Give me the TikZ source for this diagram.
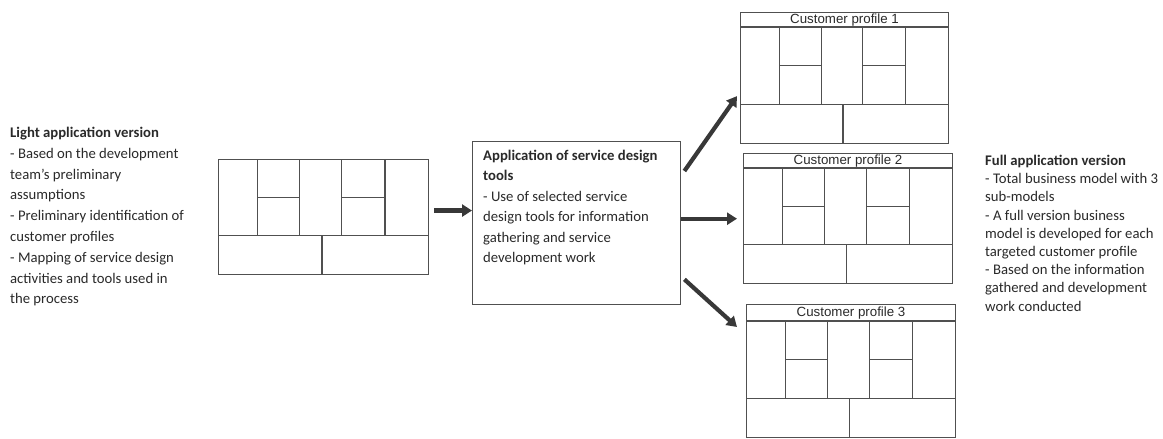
\documentclass[tikz,border=0pt]{standalone}
\usepackage{fontspec}
\setmainfont{Carlito}
\newfontfamily\titlefont{Liberation Sans}
\usetikzlibrary{arrows.meta,calc}
\definecolor{inkline}{HTML}{505050}
\definecolor{inktext}{HTML}{2A2A2A}
\definecolor{arrowgray}{HTML}{383838}

\tikzset{
  gridline/.style={draw=inkline, line width=1.1pt},
  frame/.style={draw=inkline, line width=1.1pt, rectangle, inner sep=0pt, anchor=north west},
  bodytext/.style={text=inktext, inner sep=0pt, anchor=north west, align=left},
  bigarrow/.style={draw=arrowgray, line width=4.2pt, -{Triangle[length=10pt,width=12pt]}},
  cptitle/.style={text=inktext, font=\titlefont\fontsize{13.3}{15}\selectfont, inner sep=0pt},
}

% inner lines of a nine-block canvas: \bmgrid{left}{top}{right}{bottom}
\newcommand\bmgrid[4]{%
  \pgfmathsetmacro\gw{#3-#1}\pgfmathsetmacro\gh{#4-#2}%
  \begin{scope}[shift={(#1,#2)}, x=\gw pt, y=-\gh pt]
    \draw[gridline] (0,.665) -- (1,.665);
    \draw[gridline] (.19,0) -- (.19,.665) (.39,0) -- (.39,.665)
                    (.59,0) -- (.59,.665) (.795,0) -- (.795,.665);
    \draw[gridline] (.19,.3325) -- (.39,.3325) (.59,.3325) -- (.795,.3325);
    \draw[gridline] (.495,.665) -- (.495,1);
  \end{scope}}

\begin{document}
\begin{tikzpicture}[x=1pt,y=-1pt]
\fill[white] (0,0) rectangle (1163,439);
\useasboundingbox (0,0) rectangle (1163,439);

% left description
\node[bodytext, font=\fontsize{14.7}{20.8}\selectfont] (lighttext) at (10,127)
  {\textbf{Light application version}\\
   - Based on the development\\
   team's preliminary\\
   assumptions\\
   - Preliminary identification of\\
   customer profiles\\
   - Mapping of service design\\
   activities and tools used in\\
   the process};

% light canvas
\node[frame, minimum width=210pt, minimum height=115pt] (light) at (218,159) {};
\bmgrid{218}{159}{428}{274}

% central step
\node[frame, line width=1.4pt, minimum width=208pt, minimum height=163pt] (mid) at (472,141) {};
\node[bodytext, font=\fontsize{14.7}{20.4}\selectfont] (midtext) at (483,150)
  {\textbf{Application of service design}\\
   \textbf{tools}\\
   - Use of selected service\\
   design tools for information\\
   gathering and service\\
   development work};

% customer profile canvases
\node[frame, minimum width=208pt, minimum height=131pt] (cp1) at (740,12) {};
\draw[gridline] ([yshift=-15pt]cp1.north west) -- ([yshift=-15pt]cp1.north east);
\node[cptitle] (cp1t) at ($(cp1.north)+(0,7.8)$) {Customer profile 1};
\bmgrid{740}{27}{948}{143}

\node[frame, minimum width=209pt, minimum height=130pt] (cp2) at (743,153) {};
\draw[gridline] ([yshift=-15pt]cp2.north west) -- ([yshift=-15pt]cp2.north east);
\node[cptitle] (cp2t) at ($(cp2.north)+(0,7.8)$) {Customer profile 2};
\bmgrid{743}{168}{952}{283}

\node[frame, minimum width=209pt, minimum height=133pt] (cp3) at (746,304) {};
\draw[gridline] ([yshift=-17pt]cp3.north west) -- ([yshift=-17pt]cp3.north east);
\node[cptitle] (cp3t) at ($(cp3.north)+(0,8.8)$) {Customer profile 3};
\bmgrid{746}{321}{955}{437}

% right description
\node[bodytext, font=\fontsize{14.7}{18.2}\selectfont] (fulltext) at (985,155)
  {\textbf{Full application version}\\
   - Total business model with 3\\
   sub-models\\
   - A full version business\\
   model is developed for each\\
   targeted customer profile\\
   - Based on the information\\
   gathered and development\\
   work conducted};

% arrows
\draw[bigarrow] ([xshift=5pt,yshift=6.5pt]light.east) coordinate (a0)
  -- (a0 -| mid.west);
\draw[bigarrow] ([yshift=4.5pt]mid.east) coordinate (m0)
  -- ($(m0 -| cp2.west)+(-6,0)$);
\draw[bigarrow] ($(mid.north east)+(3,30)$) -- ($(cp1.south west)+(-3,-48)$);
\draw[bigarrow] ($(mid.south east)+(3,-26)$) -- ($(cp3.north west)+(-9,23)$);
\end{tikzpicture}
\end{document}
